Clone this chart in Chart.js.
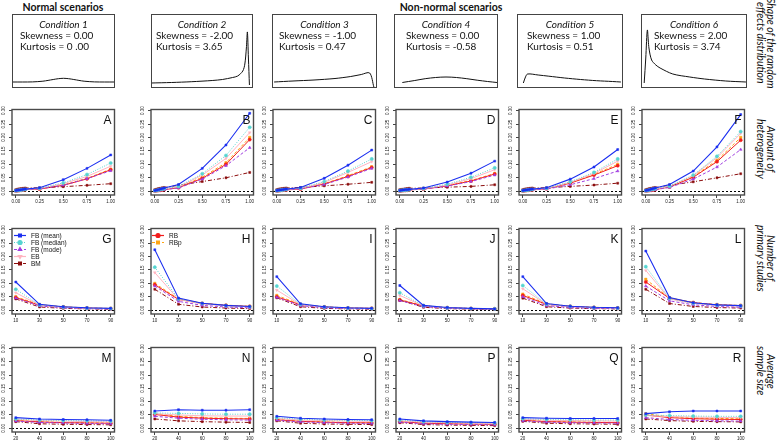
<!DOCTYPE html>
<html>
<head>
<meta charset="utf-8">
<script src="https://cdn.jsdelivr.net/npm/chart.js@4.4.1/dist/chart.umd.min.js"></script>
<style>
  body { margin: 0; background: #fff; }
  #wrap { position: relative; width: 778px; height: 442px; overflow: hidden; font-family: Lato, "Open Sans", sans-serif; color: #111; }
  canvas { position: absolute; }
  .hdr { position: absolute; top: 1px; font-weight: bold; font-size: 10.5px; white-space: nowrap; transform: translateX(-50%); }
  .ctitle { position: absolute; top: 19px; font-style: italic; font-size: 10px; line-height: 11px; text-align: center; }
  .cline { position: absolute; font-size: 10px; line-height: 11px; white-space: nowrap; }
  .side { position: absolute; left: 752px; width: 24px; height: 120px; writing-mode: vertical-rl; font-style: italic; font-size: 10.5px; line-height: 10.5px; text-align: center; }
</style>
</head>
<body>
<div id="wrap"></div>
<script>
// x values for each row of panels
const heterogeneity = [0, 0.02, 0.04, 0.06, 0.08, 0.10, 0.25, 0.50, 0.75, 1.00];
const numStudies = [10, 30, 50, 70, 90];
const sampleSizes = [20, 40, 60, 80, 100];
const hetTicks = [0, 0.25, 0.5, 0.75, 1];
const yTicks = [0, 0.05, 0.10, 0.15, 0.20, 0.25, 0.30];

const seriesNames = ['FB (mean)', 'FB (median)', 'FB (mode)', 'EB', 'BM', 'RB', 'RBp'];

// condition boxes
const condTitles = ['Condition 1', 'Condition 2', 'Condition 3', 'Condition 4', 'Condition 5', 'Condition 6'];
const skewness = ['0.00', '-2.00', '-1.00', '0.00', '1.00', '2.00'];
const kurtosis = ['0 .00', '3.65', '0.47', '-0.58', '0.51', '3.74'];

// density shapes, [x, height]
const shape1 = [[0,6],[0.1,6],[0.2,6.1],[0.3,6.8],[0.35,7.6],[0.4,8.5],[0.45,9.3],[0.5,9.7],[0.55,9.3],[0.6,8.5],[0.65,7.6],[0.7,6.8],[0.8,6.1],[0.9,6],[1,6]];
const shape2 = [[0,5],[0.2,5.5],[0.4,6.3],[0.6,7.5],[0.7,8.5],[0.8,10.5],[0.85,12],[0.9,17],[0.92,24],[0.935,40],[0.945,56],[0.955,30],[0.965,3]];
const shape3 = [[0.02,6],[0.2,7],[0.4,8],[0.6,9.5],[0.75,11.5],[0.85,13.5],[0.93,15],[0.97,1]];
const shape4 = [[0.08,5.5],[0.2,7.5],[0.3,9.3],[0.4,10.5],[0.5,11],[0.6,10.5],[0.7,9.3],[0.8,7.8],[0.9,6.5],[0.99,5.5]];
const shape5 = [[0.06,5],[0.08,11],[0.1,14],[0.2,13],[0.3,11.8],[0.45,10],[0.6,8.5],[0.75,7.3],[0.9,6.5],[0.98,6]];
const shape6 = [[0.03,5],[0.045,30],[0.06,58],[0.075,40],[0.1,28],[0.14,23],[0.18,20],[0.3,14],[0.46,11],[0.6,9],[0.8,7],[0.99,6]];

// series order: FB mean, FB median, FB mode, EB, BM, RB, RBp
const panelA = [
  [.003,.004,.005,.006,.007,.008,.013,.043,.085,.135],
  [.002,.003,.004,.005,.006,.007,.011,.031,.062,.105],
  [.001,.002,.003,.004,.005,.006,.009,.022,.047,.076],
  [.002,.003,.004,.005,.006,.007,.010,.028,.055,.093],
  [.006,.008,.009,.010,.011,.012,.013,.017,.022,.028],
  [.001,.002,.003,.004,.005,.006,.008,.022,.046,.080],
  [.002,.003,.004,.005,.005,.006,.009,.023,.048,.082]
];
const panelB = [
  [.003,.004,.006,.008,.010,.012,.025,.085,.172,.290],
  [.002,.003,.005,.007,.008,.010,.018,.065,.133,.238],
  [.001,.002,.003,.004,.005,.006,.012,.045,.095,.162],
  [.002,.003,.005,.006,.008,.009,.016,.060,.122,.218],
  [.006,.008,.010,.011,.013,.014,.022,.036,.050,.070],
  [.001,.002,.003,.004,.005,.006,.013,.048,.100,.192],
  [.002,.003,.004,.005,.006,.007,.015,.052,.106,.200]
];
const panelC = [
  [.003,.004,.005,.006,.007,.008,.014,.048,.097,.153],
  [.002,.003,.004,.005,.006,.007,.011,.036,.075,.120],
  [.001,.002,.003,.004,.005,.005,.009,.025,.053,.085],
  [.002,.003,.004,.005,.006,.007,.010,.033,.070,.110],
  [.006,.008,.009,.010,.011,.012,.014,.020,.026,.033],
  [.001,.002,.003,.004,.005,.005,.008,.027,.055,.088],
  [.002,.003,.004,.005,.005,.006,.009,.028,.058,.091]
];
const panelD = [
  [.003,.004,.005,.006,.006,.007,.012,.034,.067,.112],
  [.002,.003,.004,.005,.005,.006,.010,.026,.052,.087],
  [.001,.002,.003,.003,.004,.005,.008,.019,.036,.060],
  [.002,.003,.004,.004,.005,.006,.009,.023,.047,.080],
  [.006,.007,.008,.009,.010,.011,.012,.015,.018,.024],
  [.001,.002,.003,.003,.004,.005,.008,.020,.038,.064],
  [.002,.003,.003,.004,.005,.005,.008,.021,.040,.066]
];
const panelE = [
  [.003,.004,.005,.006,.007,.008,.013,.045,.090,.155],
  [.002,.003,.004,.005,.006,.007,.011,.035,.070,.120],
  [.001,.002,.003,.004,.005,.005,.008,.024,.047,.075],
  [.002,.003,.004,.005,.006,.007,.010,.033,.066,.112],
  [.006,.008,.009,.010,.011,.012,.013,.018,.023,.030],
  [.001,.002,.003,.004,.005,.005,.009,.030,.060,.095],
  [.002,.003,.004,.005,.005,.006,.010,.032,.063,.100]
];
const panelF = [
  [.003,.004,.006,.008,.010,.012,.025,.075,.165,.285],
  [.002,.003,.005,.007,.008,.010,.019,.060,.130,.222],
  [.001,.002,.003,.004,.005,.006,.014,.045,.090,.155],
  [.002,.003,.005,.006,.008,.009,.018,.058,.125,.215],
  [.006,.008,.010,.011,.013,.014,.022,.035,.050,.065],
  [.001,.002,.003,.004,.005,.006,.016,.052,.110,.190],
  [.002,.003,.004,.005,.006,.007,.017,.055,.115,.200]
];
const panelG = [
  [.105,.022,.013,.009,.007],
  [.078,.020,.012,.008,.006],
  [.045,.016,.009,.006,.004],
  [.065,.019,.011,.008,.006],
  [.042,.012,.007,.005,.004],
  [.047,.019,.012,.008,.006],
  [.050,.021,.013,.009,.007]
];
const panelH = [
  [.225,.045,.026,.018,.014],
  [.160,.042,.025,.017,.013],
  [.090,.033,.018,.012,.009],
  [.140,.040,.024,.016,.012],
  [.078,.022,.012,.008,.006],
  [.095,.040,.025,.018,.014],
  [.100,.042,.026,.019,.015]
];
const panelI = [
  [.125,.024,.013,.009,.007],
  [.090,.022,.012,.008,.006],
  [.048,.017,.009,.006,.005],
  [.075,.020,.011,.008,.006],
  [.046,.013,.007,.005,.004],
  [.050,.020,.012,.008,.007],
  [.055,.022,.013,.009,.007]
];
const panelJ = [
  [.092,.018,.010,.007,.005],
  [.065,.017,.009,.006,.005],
  [.036,.013,.007,.005,.004],
  [.055,.016,.009,.006,.005],
  [.037,.011,.006,.004,.003],
  [.038,.016,.009,.006,.005],
  [.040,.017,.010,.007,.005]
];
const panelK = [
  [.125,.025,.015,.011,.009],
  [.092,.023,.014,.010,.008],
  [.050,.017,.010,.007,.006],
  [.080,.022,.013,.009,.007],
  [.045,.013,.008,.006,.005],
  [.055,.022,.014,.010,.008],
  [.060,.024,.015,.011,.009]
];
const panelL = [
  [.220,.047,.028,.020,.017],
  [.162,.044,.026,.019,.016],
  [.090,.035,.020,.014,.011],
  [.148,.042,.025,.018,.015],
  [.078,.025,.014,.010,.008],
  [.105,.044,.028,.020,.017],
  [.115,.046,.029,.021,.018]
];
const panelM = [
  [.040,.035,.033,.032,.030],
  [.035,.031,.029,.028,.027],
  [.027,.022,.020,.018,.017],
  [.033,.029,.027,.025,.024],
  [.025,.017,.015,.014,.013],
  [.029,.024,.021,.020,.019],
  [.031,.025,.022,.021,.020]
];
const panelN = [
  [.065,.070,.068,.068,.070],
  [.058,.056,.054,.053,.053],
  [.045,.038,.034,.032,.031],
  [.055,.050,.047,.046,.046],
  [.035,.028,.025,.023,.022],
  [.052,.042,.038,.036,.035],
  [.055,.045,.040,.038,.037]
];
const panelO = [
  [.045,.038,.035,.033,.032],
  [.040,.034,.031,.030,.029],
  [.030,.024,.021,.019,.018],
  [.037,.031,.029,.027,.026],
  [.028,.019,.016,.015,.014],
  [.032,.026,.023,.021,.020],
  [.034,.027,.024,.022,.021]
];
const panelP = [
  [.035,.028,.025,.023,.022],
  [.031,.025,.022,.021,.020],
  [.023,.017,.015,.014,.013],
  [.028,.023,.021,.019,.018],
  [.021,.014,.012,.011,.010],
  [.025,.019,.017,.016,.015],
  [.026,.020,.018,.017,.016]
];
const panelQ = [
  [.040,.038,.037,.037,.037],
  [.036,.033,.032,.031,.031],
  [.028,.023,.021,.020,.019],
  [.034,.030,.029,.028,.027],
  [.026,.019,.017,.016,.015],
  [.030,.025,.023,.022,.021],
  [.032,.026,.024,.023,.022]
];
const panelR = [
  [.055,.062,.065,.065,.065],
  [.050,.048,.046,.045,.045],
  [.040,.033,.030,.028,.027],
  [.048,.044,.042,.041,.040],
  [.035,.029,.026,.025,.024],
  [.050,.040,.036,.034,.033],
  [.055,.043,.039,.037,.036]
];

const seriesStyle = [
  { color: '#1b2ff0', dash: [], point: 'rect', width: 1.1, radius: 1.4 },
  { color: '#55d4d0', dash: [1, 1.5], point: 'circle', width: 1, radius: 1.6 },
  { color: '#a03ee0', dash: [3, 2], point: 'triangle', width: 1, radius: 1.6 },
  { color: '#ffb4c0', dash: [], point: 'triangle', rot: 180, width: 1, radius: 1.6 },
  { color: '#8b0c0c', dash: [4, 2, 1, 2], point: 'rect', width: 1, radius: 1.4 },
  { color: '#f21c1c', dash: [], point: 'circle', width: 1, radius: 1.6 },
  { color: '#ffa514', dash: [3, 2], point: 'rect', width: 1, radius: 1.7 }
];

const colLefts = [12, 151, 273, 396, 519, 642];
const panelW = 105;
const boxLefts = [12, 151, 272, 394, 517, 641];
const boxWidths = [103, 102, 105, 104, 106, 106];
const textIndent = [8, 5, 7, 12, 10, 13];

const rows = [
  { xs: heterogeneity, min: -0.04, max: 1.04, ticks: hetTicks, digits: 2, top: 106, h: 89,
    panels: [panelA, panelB, panelC, panelD, panelE, panelF], letters: 'ABCDEF' },
  { xs: numStudies, min: 6.8, max: 93.2, ticks: numStudies, digits: 0, top: 225, h: 89,
    panels: [panelG, panelH, panelI, panelJ, panelK, panelL], letters: 'GHIJKL' },
  { xs: sampleSizes, min: 16.8, max: 103.2, ticks: sampleSizes, digits: 0, top: 344, h: 88,
    panels: [panelM, panelN, panelO, panelP, panelQ, panelR], letters: 'MNOPQR' }
];

const wrap = document.getElementById('wrap');

function addDiv(cls, text, style) {
  const d = document.createElement('div');
  d.className = cls;
  d.textContent = text;
  Object.assign(d.style, style);
  wrap.appendChild(d);
  return d;
}

function addCanvas(left, top, w, h) {
  const c = document.createElement('canvas');
  c.width = w; c.height = h;
  c.style.left = left + 'px'; c.style.top = top + 'px';
  wrap.appendChild(c);
  return c;
}

addDiv('hdr', 'Normal scenarios', { left: '63px' });
addDiv('hdr', 'Non-normal scenarios', { left: '451px' });

const sideLabels = [
  ['Shape of the random', 'effects distribution', 43],
  ['Amount of', 'heterogeneity', 149],
  ['Number of', 'primary studies', 258],
  ['Average', 'sample size', 371]
];
sideLabels.forEach(([a, b, cy]) => {
  const d = addDiv('side', '', { top: (cy - 60) + 'px' });
  d.innerHTML = a + '<br>' + b;
});

const boxFrame = {
  id: 'boxFrame',
  afterDraw(chart) {
    const { ctx, chartArea: a } = chart;
    ctx.save();
    ctx.strokeStyle = '#444';
    ctx.lineWidth = 1;
    ctx.strokeRect(a.left + 0.5, a.top + 0.5, a.right - a.left - 1, a.bottom - a.top - 1);
    ctx.restore();
  }
};

const shapes = [shape1, shape2, shape3, shape4, shape5, shape6];
shapes.forEach((shape, i) => {
  const left = boxLefts[i], w = boxWidths[i];
  const c = addCanvas(left, 14, w, 74);
  new Chart(c, {
    type: 'line',
    data: { datasets: [{ data: shape.map(([x, y]) => ({ x, y })), borderColor: '#111', borderWidth: 1, pointRadius: 0, tension: 0.3 }] },
    options: {
      responsive: false, animation: false, devicePixelRatio: 1,
      layout: { padding: 0 },
      plugins: { legend: { display: false }, tooltip: { enabled: false } },
      scales: { x: { type: 'linear', display: false, min: 0, max: 1 }, y: { display: false, min: 0, max: 74 } }
    },
    plugins: [boxFrame]
  });
  addDiv('ctitle', condTitles[i], { left: left + 'px', width: w + 'px' });
  addDiv('cline', 'Skewness = ' + skewness[i], { left: (left + textIndent[i]) + 'px', top: '30px' });
  addDiv('cline', 'Kurtosis = ' + kurtosis[i], { left: (left + textIndent[i]) + 'px', top: '41px' });
});

const panelDecor = {
  id: 'panelDecor',
  beforeDatasetsDraw(chart) {
    const { ctx, chartArea: a, scales } = chart;
    const y0 = Math.round(scales.y.getPixelForValue(0)) + 0.5;
    ctx.save();
    ctx.strokeStyle = '#000';
    ctx.lineWidth = 1;
    ctx.setLineDash([2, 2]);
    ctx.beginPath();
    ctx.moveTo(a.left, y0);
    ctx.lineTo(a.right, y0);
    ctx.stroke();
    ctx.restore();
  },
  afterDraw(chart, args, opts) {
    const { ctx, chartArea: a } = chart;
    ctx.save();
    ctx.strokeStyle = '#4a4a4a';
    ctx.lineWidth = 1.4;
    ctx.strokeRect(a.left, a.top, a.right - a.left, a.bottom - a.top);
    ctx.fillStyle = '#111';
    ctx.font = '12px "Liberation Sans", Arial, sans-serif';
    ctx.textAlign = 'right';
    ctx.textBaseline = 'middle';
    ctx.fillText(opts.letter, a.right - 3, a.top + 11);
    // legend entries
    if (opts.legend) {
      const { series, x0 } = opts.legend;
      ctx.font = '6.5px "Liberation Sans", Arial, sans-serif';
      ctx.textAlign = 'left';
      series.forEach((s, k) => {
        const st = seriesStyle[s];
        const y = a.top + 7 + k * 7;
        ctx.strokeStyle = st.color;
        ctx.fillStyle = st.color;
        ctx.lineWidth = 1.2;
        ctx.setLineDash(st.dash);
        ctx.beginPath();
        ctx.moveTo(a.left + x0, y);
        ctx.lineTo(a.left + x0 + 12, y);
        ctx.stroke();
        ctx.setLineDash([]);
        Chart.helpers.drawPoint(ctx, { pointStyle: st.point, rotation: st.rot || 0, radius: 2, borderWidth: 1 }, a.left + x0 + 6, y);
        ctx.fillStyle = '#111';
        ctx.fillText(seriesNames[s], a.left + x0 + 17, y + 0.5);
      });
    }
    ctx.restore();
  }
};

const tickFont = { size: 4.5, family: '"Liberation Sans", Arial, sans-serif' };

rows.forEach((row) => {
  row.panels.forEach((vals, j) => {
    const L = colLefts[j];
    const c = addCanvas(L - 13, row.top - 1, panelW + 15, row.h + 14);
    const datasets = vals.map((ys, s) => {
      const st = seriesStyle[s];
      return {
        label: seriesNames[s],
        data: row.xs.map((x, k) => ({ x, y: ys[k] })),
        borderColor: st.color,
        backgroundColor: st.color,
        borderWidth: st.width,
        borderDash: st.dash,
        pointStyle: st.point,
        pointRotation: st.rot || 0,
        pointRadius: st.radius,
        pointBorderWidth: 0.5,
        tension: 0
      };
    });
    let legend = null;
    if (row.letters[j] === 'G') legend = { series: [0, 1, 2, 3, 4], x0: 2 };
    if (row.letters[j] === 'H') legend = { series: [5, 6], x0: 1 };
    new Chart(c, {
      type: 'line',
      data: { datasets },
      options: {
        responsive: false, animation: false, devicePixelRatio: 1,
        layout: { padding: { left: 1, top: 1, right: 2, bottom: 1 } },
        plugins: {
          legend: { display: false }, tooltip: { enabled: false },
          panelDecor: { letter: row.letters[j], legend }
        },
        scales: {
          x: {
            type: 'linear', min: row.min, max: row.max,
            afterBuildTicks: (ax) => { ax.ticks = row.ticks.map((v) => ({ value: v })); },
            afterFit: (ax) => { ax.height = 12; },
            ticks: { font: tickFont, color: '#222', padding: 1, maxRotation: 0, autoSkip: false,
              callback: (v) => v.toFixed(row.digits) },
            grid: { drawOnChartArea: false, drawTicks: true, tickLength: 3, color: '#444' },
            border: { display: false }
          },
          y: {
            min: -0.014, max: 0.304,
            afterBuildTicks: (ax) => { ax.ticks = yTicks.map((v) => ({ value: v })); },
            afterFit: (ax) => { ax.width = 12; },
            ticks: { font: tickFont, color: '#222', padding: 1, minRotation: 90, maxRotation: 90, autoSkip: false,
              crossAlign: 'center', callback: (v) => v.toFixed(2) },
            grid: { drawOnChartArea: false, drawTicks: true, tickLength: 3, color: '#444' },
            border: { display: false }
          }
        }
      },
      plugins: [panelDecor]
    });
  });
});
</script>
</body>
</html>
